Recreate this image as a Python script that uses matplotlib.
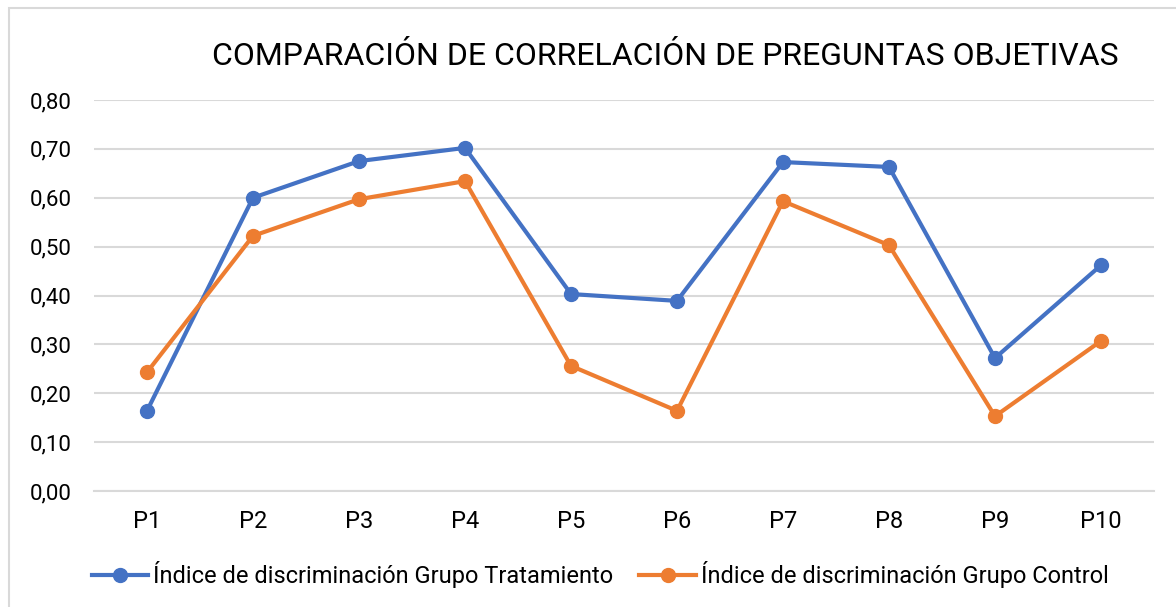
import matplotlib
matplotlib.use("Agg")
import matplotlib.pyplot as plt
from matplotlib.patches import Rectangle
from matplotlib.lines import Line2D
from matplotlib.ticker import FuncFormatter

plt.rcParams['font.family'] = ['Roboto', 'DejaVu Sans']

preguntas = ["P1", "P2", "P3", "P4", "P5", "P6", "P7", "P8", "P9", "P10"]
tratamiento = [0.164, 0.600, 0.675, 0.702, 0.403, 0.389, 0.673, 0.663, 0.272, 0.462]
control = [0.243, 0.522, 0.597, 0.634, 0.256, 0.164, 0.593, 0.503, 0.153, 0.307]
nombres = ["Índice de discriminación Grupo Tratamiento",
           "Índice de discriminación Grupo Control"]
colores = ["#4472C4", "#ED7D31"]

W, H = 1176, 607
fig = plt.figure(figsize=(W / 100, H / 100), dpi=100)
ax = fig.add_axes([94 / W, 1 - 491 / H, (1154 - 94) / W, (491 - 100) / H])

x = list(range(len(preguntas)))
for serie, nombre, c in zip([tratamiento, control], nombres, colores):
    ax.plot(x, serie, color=c, lw=3, marker="o", ms=10, label=nombre,
            solid_capstyle="round", zorder=3)

ax.set_xlim(-0.5, len(preguntas) - 0.5)
ax.set_ylim(0, 0.8)
ax.set_yticks([i / 10 for i in range(9)])
ax.yaxis.set_major_formatter(FuncFormatter(lambda v, p: f"{v:.2f}".replace(".", ",")))
ax.set_xticks(x)
ax.set_xticklabels(preguntas)
ax.grid(axis="y", color="#D9D9D9", lw=1.5)
ax.set_axisbelow(True)
for s in ax.spines.values():
    s.set_visible(False)
ax.spines["bottom"].set_visible(True)
ax.spines["bottom"].set_color("#D9D9D9")
ax.spines["bottom"].set_linewidth(1.5)
ax.tick_params(axis="both", length=0, colors="black")
ax.tick_params(axis="y", pad=16, labelsize=16)
ax.tick_params(axis="x", pad=14, labelsize=17)

fig.text(665 / W, 1 - 65 / H, "COMPARACIÓN DE CORRELACIÓN DE PREGUNTAS OBJETIVAS",
         ha="center", va="baseline", fontsize=23)

handles = [Line2D([], [], color=c, lw=3, marker="o", ms=10) for c in colores]
fig.legend(handles, nombres, loc="center", bbox_to_anchor=(600 / W, 1 - 575 / H),
           ncol=2, frameon=False, fontsize=17, handlelength=2.4,
           handletextpad=0.2, columnspacing=1.1)

fig.patches.append(Rectangle((9 / W, -0.1), 1.2, 1 - 8 / H + 0.1,
                             transform=fig.transFigure, fill=False,
                             edgecolor="#D9D9D9", lw=1.5))

fig.savefig("out.png", dpi=100)
